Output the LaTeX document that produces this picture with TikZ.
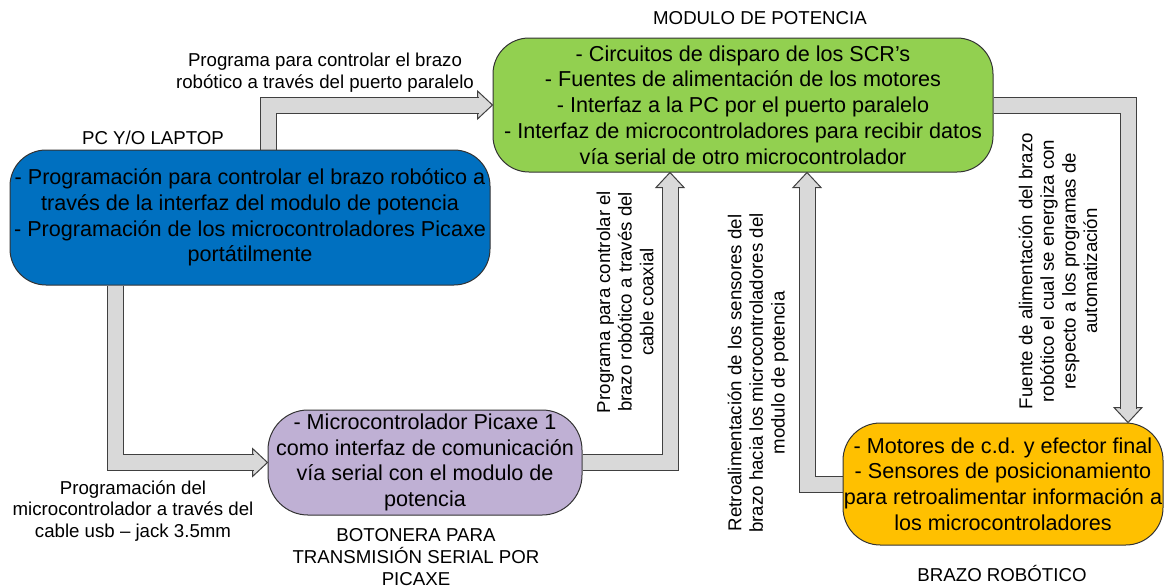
\documentclass[tikz,border=0pt]{standalone}
\usepackage{fontspec}
\setmainfont{Liberation Sans}
\usetikzlibrary{calc, backgrounds}

\definecolor{pcblue}{RGB}{0,112,192}
\definecolor{potgreen}{RGB}{146,208,80}
\definecolor{botlila}{RGB}{191,176,212}
\definecolor{brazoamber}{RGB}{255,192,0}
\definecolor{shaftgray}{RGB}{217,217,217}
\definecolor{edgegray}{RGB}{64,64,64}

\begin{document}
\begin{tikzpicture}[
    x=0.75pt, y=-0.75pt,
    font=\fontsize{14}{16.2}\selectfont,
    box/.style   ={rectangle, rounded corners=27pt, draw=black!80, line width=0.75pt, align=center, inner sep=0pt, font=\fontsize{16.2}{19.3}\selectfont},
    pcbox/.style ={box, fill=pcblue,     minimum width=360pt, minimum height=101.25pt},
    potbox/.style={box, fill=potgreen,   minimum width=375pt, minimum height=100.5pt},
    botbox/.style={box, fill=botlila,    minimum width=235.5pt, minimum height=78.75pt, rounded corners=30pt},
    armbox/.style={box, fill=brazoamber, minimum width=240pt, minimum height=91.5pt, rounded corners=28pt},
    caption/.style={align=center, inner sep=0pt},
    shaft/.style={draw=edgegray, line width=0.75pt, double=shaftgray, double distance=11.25pt, line join=miter},
    head/.style ={fill=shaftgray, draw=edgegray, line width=0.75pt, line join=miter},
]
\useasboundingbox (0,0) rectangle (1167,587);

%==================== BLOCKS ====================

\node[pcbox] (pc) at (250,217.5)
  {- Programación para controlar el brazo robótico a\\través de la interfaz del modulo de potencia\\- Programación de los microcontroladores Picaxe\\portátilmente};
\node[potbox] (pot) at (743,105)
  {- Circuitos de disparo de los SCR’s\\- Fuentes de alimentación de los motores\\- Interfaz a la PC por el puerto paralelo\\- Interfaz de microcontroladores para recibir datos\\vía serial de otro microcontrolador};
\node[botbox] (bot) at (425,462.5)
  {- Microcontrolador Picaxe 1\\como interfaz de comunicación\\vía serial con el modulo de\\potencia};
\node[armbox] (brazo) at (1003,484)
  {- Motores de c.d. y efector final\\- Sensores de posicionamiento\\para retroalimentar información a\\los microcontroladores};

% block titles
\node[caption] (pctitle)    at (153,138)  {PC Y/O LAPTOP};
\node[caption] (pottitle)   at (760,18)   {MODULO DE POTENCIA};
\node[caption] (bottitle)   at (416,557)  {BOTONERA PARA\\TRANSMISIÓN SERIAL POR\\PICAXE};
\node[caption] (brazotitle) at (1002,573) {BRAZO ROBÓTICO};

%==================== ARROWS ====================

\coordinate (a1) at (268,105);
\coordinate (a2) at (115,462.5);
\coordinate (a3) at (670,463);
\coordinate (a4) at (807,486);
\coordinate (a5) at (1128,105);

\begin{scope}[on background layer]
  % PC -> modulo de potencia
  \filldraw[head] (pot.west) -- ++(-15,-14) -- ++(0,28) -- cycle;
  \draw[shaft] (pc.north -| a1) |- ($(pot.west)+(-14,0)$);
  % PC -> botonera
  \filldraw[head] (bot.west) -- ++(-15,-14) -- ++(0,28) -- cycle;
  \draw[shaft] (pc.south -| a2) |- ($(bot.west)+(-14,0)$);
  % botonera -> modulo de potencia
  \filldraw[head] (pot.south -| a3) -- ++(-14,15) -- ++(28,0) -- cycle;
  \draw[shaft] (bot.east) -| ($(pot.south -| a3)+(0,14)$);
  % brazo -> modulo de potencia
  \filldraw[head] (pot.south -| a4) -- ++(-14,15) -- ++(28,0) -- cycle;
  \draw[shaft] (brazo.west) -| ($(pot.south -| a4)+(0,14)$);
  % modulo de potencia -> brazo
  \filldraw[head] (brazo.north -| a5) -- ++(-14,-15) -- ++(28,0) -- cycle;
  \draw[shaft] (pot.east) -| ($(brazo.north -| a5)+(0,-14)$);
\end{scope}

%==================== ARROW LABELS ====================

\node[caption] (lpar)  at (325,72.5) {Programa para controlar el brazo\\robótico a través del puerto paralelo};
\node[caption] (lusb)  at (133,511)  {Programación del\\microcontrolador a través del\\cable usb – jack 3.5mm};
\node[caption, rotate=90] (lcoax) at (625,302)  {Programa para controlar el\\brazo robótico a través del\\cable coaxial};
\node[caption, rotate=90] (lret)  at (758,373)  {Retroalimentación de los sensores del\\brazo hacia los microcontroladores del\\modulo de potencia};
\node[caption, rotate=90] (lfue)  at (1058,271) {Fuente de alimentación del brazo\\robótico el cual se energiza con\\respecto a los programas de\\automatización};

\end{tikzpicture}
\end{document}
